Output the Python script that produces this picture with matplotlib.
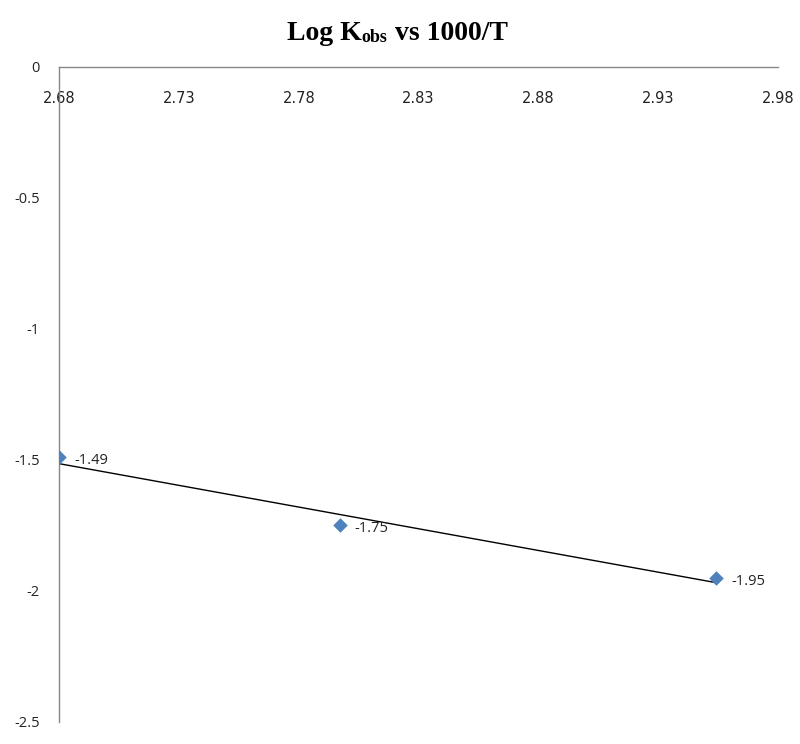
import matplotlib
matplotlib.use("Agg")
import matplotlib.pyplot as plt
import matplotlib.transforms as mtrans
import numpy as np

# data
inv_T = [2.680, 2.797, 2.954]      # 1000/T
log_k = [-1.49, -1.75, -1.95]      # log Kobs
point_labels = ["-1.49", "-1.75", "-1.95"]
x_ticks = [2.68, 2.73, 2.78, 2.83, 2.88, 2.93, 2.98]
y_ticks = [0, -0.5, -1, -1.5, -2, -2.5]

fig = plt.figure(figsize=(8, 7.44), dpi=100)
ax = fig.add_axes([0.074, 0.0296, 0.8985, 0.8804])

lab_font = "Open Sans"
lab_size = 10.5

# linear trendline
slope, icpt = np.polyfit(inv_T, log_k, 1)
xs = np.array([min(inv_T), max(inv_T)])
ax.plot(xs, slope * xs + icpt, color="black", lw=1.0, zorder=2)

ax.scatter(inv_T, log_k, marker="D", s=55, color="#4f81bd", zorder=3, linewidths=0)
for x, y, t in zip(inv_T, log_k, point_labels):
    ax.annotate(t, (x, y), xytext=(11, -2.5), textcoords="offset points",
                va="center", ha="left", fontsize=lab_size, family=lab_font, color="#222222")

ax.set_xlim(2.68, 2.98)
ax.set_ylim(-2.5, 0)

ax.spines["right"].set_visible(False)
ax.spines["bottom"].set_visible(False)
for s in ["top", "left"]:
    ax.spines[s].set_color("#888888")
    ax.spines[s].set_linewidth(1.0)

ax.set_xticks(x_ticks)
ax.set_xticklabels([f"{v:.2f}" for v in x_ticks])
ax.set_yticks(y_ticks)
ax.set_yticklabels([f"{v:g}" for v in y_ticks])
ax.tick_params(length=0)
ax.tick_params(axis="x", pad=12, labelsize=lab_size, labelcolor="#222222")
ax.tick_params(axis="y", pad=14, labelsize=lab_size, labelcolor="#222222")
for lbl in ax.get_xticklabels() + ax.get_yticklabels():
    lbl.set_family(lab_font)

# x labels sit just under the axis line at y=0
ax.xaxis.set_ticks_position("top")
off = mtrans.ScaledTranslation(0, -29 / 72, fig.dpi_scale_trans)
for lbl in ax.get_xticklabels():
    lbl.set_verticalalignment("top")
    lbl.set_transform(lbl.get_transform() + off)

# title: Log K(obs) vs 1000/T in bold serif with smaller "obs"
tf = "Liberation Serif"
t1 = fig.text(287 / 800, 1 - 40 / 744, "Log K", fontsize=20, fontweight="bold",
              family=tf, ha="left", va="baseline")
a2 = ax.annotate("obs", xy=(1, 0.02), xycoords=t1, fontsize=13, fontweight="bold",
                 family=tf, va="bottom", ha="left", annotation_clip=False)
a3 = ax.annotate(" vs 1000/T", xy=(1, 0), xycoords=a2, fontsize=20, fontweight="bold",
                 family=tf, va="bottom", ha="left", annotation_clip=False)

fig.savefig("out.png", dpi=100)
